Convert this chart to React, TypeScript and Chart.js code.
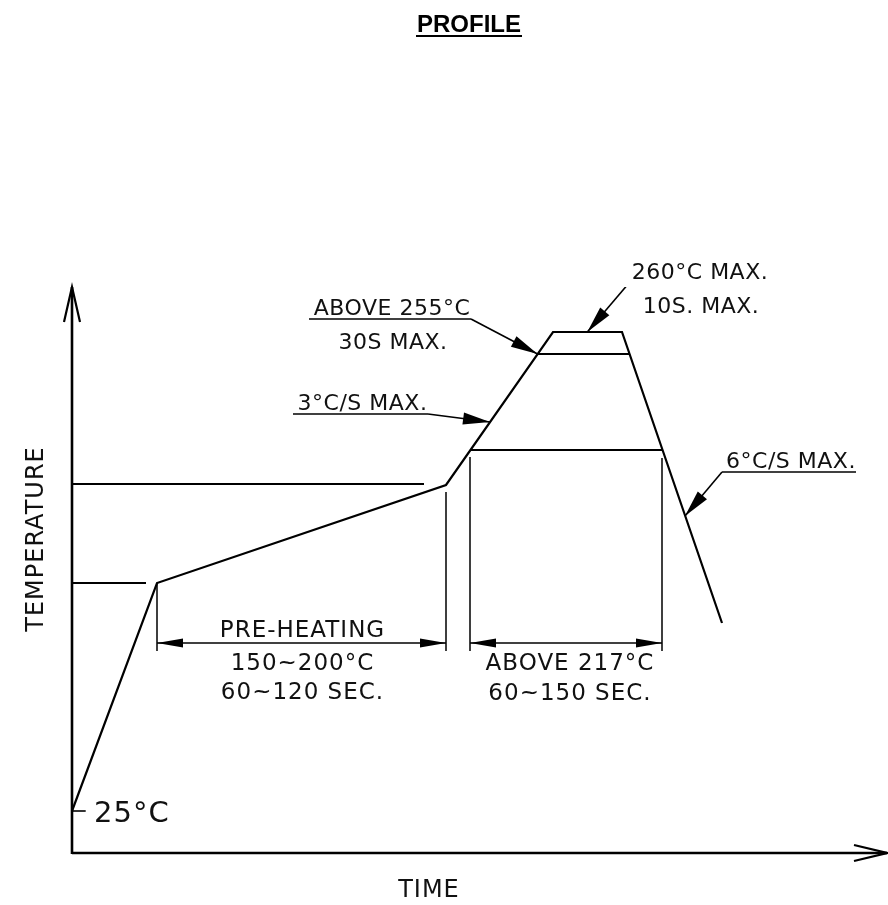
import React, { useEffect, useRef } from "react";
import { Chart, registerables } from "chart.js";

Chart.register(...registerables);

// ---- Data (schematic units: x = time, y = temperature height) ----
const profileTime = [0, 85, 374, 481, 550, 650];
const profileTemp = [42, 270, 368, 521, 521, 230];

// reference temperature levels (horizontal lines)
const levelNames = ["200°C", "150°C", "217°C", "255°C"];
const levelTemp = [369, 270, 403, 499];
const levelStart = [0, 0, 398, 465.5];
const levelEnd = [352, 74, 590, 557.5];

// extension (witness) lines for dimensions
const extTime = [85, 374, 398, 590];
const extTop = [270, 361, 396, 395];
const extBottom = 202;

// dimension spans
const dimStart = [85, 398];
const dimEnd = [374, 590];
const dimLevel = 210;
const dimLabels = [
  ["PRE-HEATING", "150~200°C", "60~120 SEC."],
  ["ABOVE 217°C", "60~150 SEC."],
];

// callouts
const calloutText = [
  ["260°C MAX.", "10S. MAX."],
  ["ABOVE 255°C", "30S MAX."],
  ["3°C/S MAX."],
  ["6°C/S MAX."],
];
const calloutLineStart = [557, 237, 221, 650];
const calloutLineEnd = [695, 399, 356, 784];
const calloutLevel = [570, 534, 439, 381];
const calloutElbowAtEnd = [false, true, true, false];
const calloutTipTime = [515.3, 465.6, 418, 613];
const calloutTipTemp = [521, 499, 431, 337];

const startTempLabel = "25°C";
const startTemp = 42;
const xTitle = "TIME";
const yTitle = "TEMPERATURE";
const chartTitle = "PROFILE";

const X_MAX = 815;
const Y_MAX = 566;

const INK = "#111";

function seg(x1: number, y1: number, x2: number, y2: number, w: number) {
  return {
    data: [
      { x: x1, y: y1 },
      { x: x2, y: y2 },
    ],
    borderColor: "#000",
    borderWidth: w,
    pointRadius: 0,
    fill: false,
    tension: 0,
    borderCapStyle: "butt",
  };
}

function buildDatasets() {
  const ds: any[] = [];
  ds.push({
    label: "profile",
    data: profileTime.map((t, i) => ({ x: t, y: profileTemp[i] })),
    borderColor: "#000",
    borderWidth: 2.2,
    pointRadius: 0,
    fill: false,
    tension: 0,
    borderJoinStyle: "miter",
  });
  levelTemp.forEach((v, i) => {
    const d = seg(levelStart[i], v, levelEnd[i], v, 2.2);
    (d as any).label = levelNames[i];
    ds.push(d);
  });
  extTime.forEach((t, i) => ds.push(seg(t, extTop[i], t, extBottom, 1.5)));
  dimStart.forEach((s, i) => ds.push(seg(s, dimLevel, dimEnd[i], dimLevel, 1.5)));
  calloutLevel.forEach((lv, i) => {
    ds.push(seg(calloutLineStart[i], lv, calloutLineEnd[i], lv, 1.6));
    const ex = calloutElbowAtEnd[i] ? calloutLineEnd[i] : calloutLineStart[i];
    ds.push(seg(ex, lv, calloutTipTime[i], calloutTipTemp[i], 1.6));
  });
  ds.push(seg(0, startTemp, 13.7, startTemp, 1.6));
  return ds;
}

function filledArrow(ctx: CanvasRenderingContext2D, tx: number, ty: number, fx: number, fy: number, len: number, hw: number) {
  const a = Math.atan2(ty - fy, tx - fx);
  const bx = tx - len * Math.cos(a);
  const by = ty - len * Math.sin(a);
  const nx = -Math.sin(a) * hw;
  const ny = Math.cos(a) * hw;
  ctx.beginPath();
  ctx.moveTo(tx, ty);
  ctx.lineTo(bx + nx, by + ny);
  ctx.lineTo(bx - nx, by - ny);
  ctx.closePath();
  ctx.fill();
}

const drawPlugin = {
  id: "profileDecor",
  afterDatasetsDraw(chart: any) {
    const ctx: CanvasRenderingContext2D = chart.ctx;
    const xs = chart.scales.x;
    const ys = chart.scales.y;
    const px = (v: number) => xs.getPixelForValue(v);
    const py = (v: number) => ys.getPixelForValue(v);
    ctx.save();
    ctx.fillStyle = "#000";
    ctx.strokeStyle = "#000";

    // axes
    const x0 = px(0), y0 = py(0), yTop = py(Y_MAX), xEnd = px(X_MAX);
    ctx.lineWidth = 2.6;
    ctx.beginPath();
    ctx.moveTo(x0, y0);
    ctx.lineTo(xEnd, y0);
    ctx.moveTo(x0, y0 + 1);
    ctx.lineTo(x0, yTop);
    ctx.stroke();
    ctx.lineWidth = 2.2;
    ctx.beginPath();
    ctx.moveTo(x0 - 8, yTop + 35);
    ctx.lineTo(x0, yTop);
    ctx.lineTo(x0 + 8, yTop + 35);
    ctx.moveTo(xEnd - 33, y0 - 8);
    ctx.lineTo(xEnd, y0);
    ctx.lineTo(xEnd - 33, y0 + 8);
    ctx.stroke();

    // dimension arrowheads
    dimStart.forEach((s, i) => {
      const a = px(s), b = px(dimEnd[i]), y = py(dimLevel);
      filledArrow(ctx, a, y, b, y, 26, 4.5);
      filledArrow(ctx, b, y, a, y, 26, 4.5);
    });
    // callout arrowheads
    calloutTipTime.forEach((t, i) => {
      const ex = calloutElbowAtEnd[i] ? calloutLineEnd[i] : calloutLineStart[i];
      filledArrow(ctx, px(t), py(calloutTipTemp[i]), px(ex), py(calloutLevel[i]), 27, 6);
    });

    // texts
    ctx.fillStyle = INK;
    ctx.font = '23px "DejaVu Sans"';
    (ctx as any).letterSpacing = "1px";
    ctx.textAlign = "center";
    ctx.textBaseline = "alphabetic";
    const txt = (s: string, x: number, y: number) => ctx.fillText(s, x, y);

    // dimension labels
    const dimCx = dimStart.map((s, i) => (px(s) + px(dimEnd[i])) / 2);
    const yd = py(dimLevel);
    txt(dimLabels[0][0], dimCx[0] + 1, yd - 6);
    txt(dimLabels[0][1], dimCx[0] + 1, yd + 27);
    txt(dimLabels[0][2], dimCx[0] + 1, yd + 56);
    txt(dimLabels[1][0], dimCx[1] + 4, yd + 27);
    txt(dimLabels[1][1], dimCx[1] + 4, yd + 57);

    // callout labels
    ctx.font = '22px "DejaVu Sans"';
    (ctx as any).letterSpacing = "0.5px";
    calloutText.forEach((lines, i) => {
      const cx = (px(calloutLineStart[i]) + px(calloutLineEnd[i])) / 2;
      const ly = py(calloutLevel[i]);
      txt(lines[0], cx + 2, ly - 4);
      if (lines[1]) txt(lines[1], cx + 3, ly + 30);
    });

    // 25°C
    (ctx as any).letterSpacing = "1px";
    ctx.font = '29px "DejaVu Sans"';
    ctx.textAlign = "left";
    txt(startTempLabel, px(0) + 22, py(startTemp) + 11);

    // axis titles
    ctx.font = '24px "DejaVu Sans"';
    ctx.textAlign = "center";
    txt(xTitle, px(X_MAX * 0.438), y0 + 44);
    ctx.save();
    ctx.translate(x0 - 29, (py(Y_MAX) + y0) / 2 - 31);
    ctx.rotate(-Math.PI / 2);
    txt(yTitle, 0, 0);
    ctx.restore();

    // title
    (ctx as any).letterSpacing = "0px";
    ctx.font = 'bold 24px "Liberation Sans"';
    ctx.fillStyle = "#000";
    const tw = ctx.measureText(chartTitle).width;
    const tcx = 469;
    ctx.fillText(chartTitle, tcx, 32);
    ctx.fillRect(tcx - tw / 2 - 1, 35, tw + 2, 2);

    ctx.restore();
  },
};

export default function App() {
  const ref = useRef<HTMLCanvasElement | null>(null);
  useEffect(() => {
    if (!ref.current) return;
    const chart = new Chart(ref.current, {
      type: "line",
      data: { datasets: buildDatasets() as any },
      options: {
        responsive: false,
        maintainAspectRatio: false,
        animation: false,
        parsing: false as any,
        normalized: true,
        layout: { padding: { left: 72, right: 1, top: 287, bottom: 52 } },
        scales: {
          x: { type: "linear", display: false, min: 0, max: X_MAX },
          y: { type: "linear", display: false, min: 0, max: Y_MAX },
        },
        plugins: {
          legend: { display: false },
          tooltip: { enabled: false },
          title: { display: false },
        },
      },
      plugins: [drawPlugin],
    });
    return () => chart.destroy();
  }, []);
  return (
    <div style={{ position: "absolute", left: 0, top: 0, width: 888, height: 905, background: "#fff" }}>
      <canvas ref={ref} width={888} height={905} style={{ display: "block" }} />
    </div>
  );
}
